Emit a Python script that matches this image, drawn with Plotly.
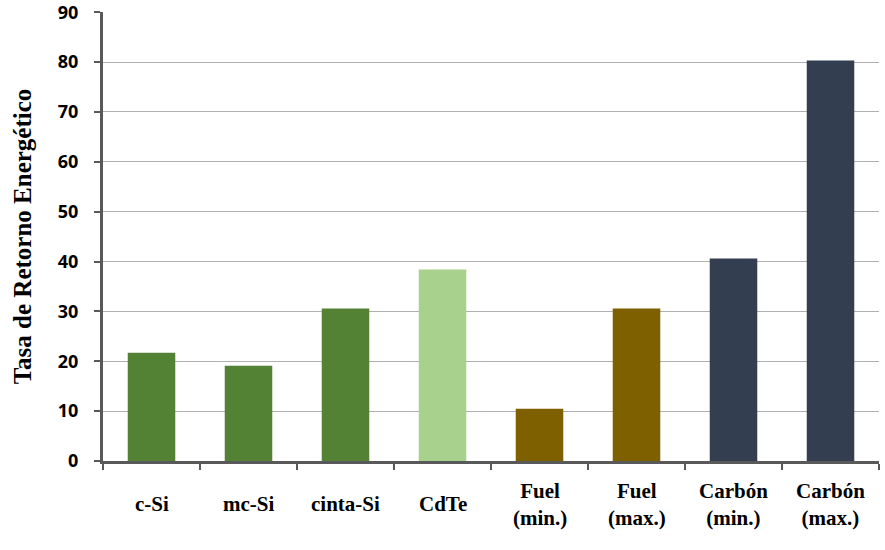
import plotly.graph_objects as go

categories = ["c-Si", "mc-Si", "cinta-Si", "CdTe", "Fuel (min.)", "Fuel (max.)", "Carbón (min.)", "Carbón (max.)"]
tick_labels = ["c-Si", "mc-Si", "cinta-Si", "CdTe", "Fuel<br>(min.)", "Fuel<br>(max.)", "Carbón<br>(min.)", "Carbón<br>(max.)"]
values = [21.7, 19.1, 30.6, 38.4, 10.5, 30.6, 40.6, 80.3]
colors = ["#548235", "#548235", "#548235", "#A9D18E", "#7F6000", "#7F6000", "#333F50", "#333F50"]
y_ticks = [0, 10, 20, 30, 40, 50, 60, 70, 80, 90]

fig = go.Figure(go.Bar(x=categories, y=values, marker=dict(color=colors, line=dict(width=0)), width=0.49))

for cat, lab in zip(categories, tick_labels):
    fig.add_annotation(
        x=cat, y=0, xref="x", yref="y", text=f"<b>{lab}</b>", showarrow=False,
        yanchor="middle", yshift=-43,
        font=dict(family="Liberation Serif, serif", size=21, color="black"),
    )

fig.update_layout(
    width=885, height=550,
    margin=dict(l=103, r=6, t=12, b=89),
    plot_bgcolor="white", paper_bgcolor="white",
    showlegend=False,
)
fig.update_yaxes(
    range=[0, 90.05], tickvals=y_ticks,
    showgrid=True, gridcolor="#b0b0b0", gridwidth=1.2,
    showline=True, linecolor="#595959", linewidth=3,
    ticks="outside", ticklen=6, tickcolor="#595959", tickwidth=1.5,
    tickfont=dict(family="Open Sans, sans-serif", size=18, color="black", weight="bold"),
    ticklabelstandoff=12,
    ticklabeloverflow="allow",
    automargin=False,
    title=dict(text="<b>Tasa de Retorno Energético</b>", font=dict(family="Liberation Serif, serif", size=25, color="black"), standoff=20),
    zeroline=False,
)
fig.update_xaxes(
    showline=True, linecolor="#595959", linewidth=3,
    ticks="outside", ticklen=6, tickcolor="#595959", tickwidth=1.5,
    tickson="boundaries",
    automargin=False,
    showticklabels=False,
)

fig.write_html("out.html", config={"displayModeBar": False}, post_script="document.body.style.margin='0';")
